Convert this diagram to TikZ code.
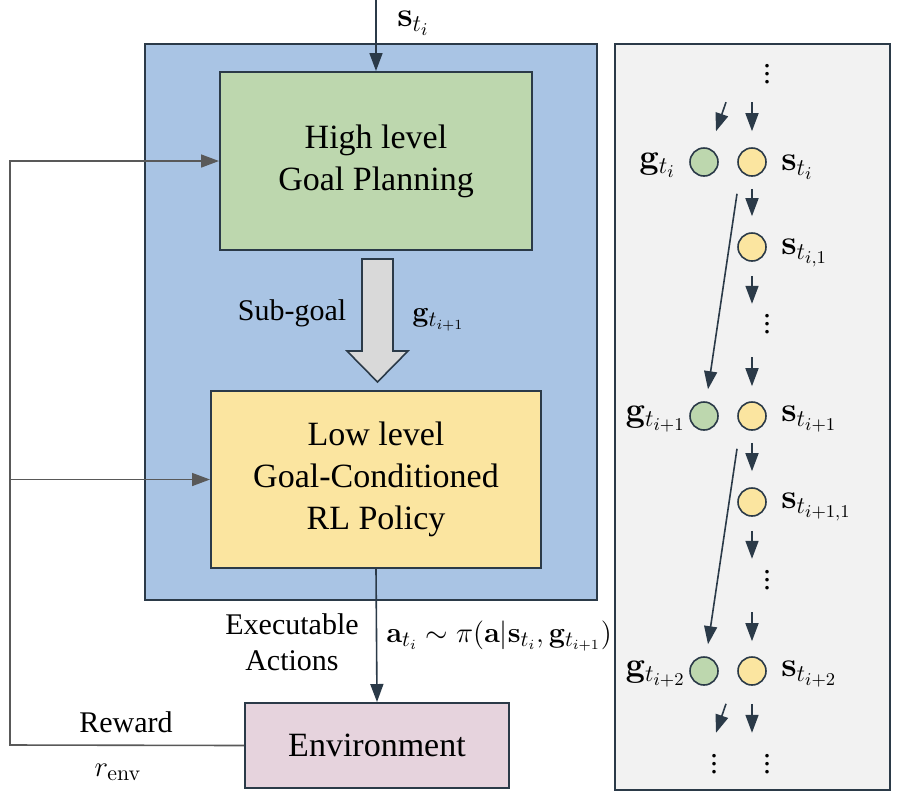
\documentclass[tikz,border=0pt]{standalone}
\usepackage{amsmath,amssymb}
\usepackage[no-math]{fontspec}
\setmainfont{Liberation Serif}
\usepackage{tikz}
\usetikzlibrary{arrows.meta}
\usepackage{xcolor}
\definecolor{PlanBlue}{HTML}{A9C4E4}
\definecolor{HighGreen}{HTML}{BDD7AE}
\definecolor{LowYellow}{HTML}{FBE5A0}
\definecolor{EnvPink}{HTML}{E6D3DD}
\definecolor{PanelGray}{HTML}{F2F2F2}
\definecolor{ShaftGray}{HTML}{D9D9D9}
\definecolor{EdgeDark}{HTML}{2B3A48}
\definecolor{FeedGray}{HTML}{595959}

\begin{document}
\begin{tikzpicture}[x=0.5pt,y=-0.5pt,>={Triangle[length=9pt,width=6.5pt]},
  box/.style={draw=EdgeDark,line width=1pt,align=center,inner sep=0pt,
    font=\fontsize{17}{21}\selectfont},
  lbl/.style={font=\fontsize{15}{18}\selectfont,inner sep=1pt},
  mlbl/.style={font=\fontsize{17.5}{20}\selectfont,inner sep=1pt},
  flow/.style={->,draw=EdgeDark,line width=0.8pt},
  stub/.style={->,draw=EdgeDark,line width=0.8pt},
  feed/.style={->,draw=FeedGray,line width=0.8pt},
  dot/.style={circle,draw=EdgeDark,line width=0.8pt,minimum size=14pt,inner sep=0pt}]
  \useasboundingbox (0,0) rectangle (900,794);
  % hierarchical agent
  \draw[EdgeDark,line width=1pt,fill=PlanBlue] (145,44) rectangle (597,600);
  \node[box,fill=HighGreen,minimum width=156pt,minimum height=89pt] (hlp) at (376,161)
    {High level\\Goal Planning};
  \node[box,fill=LowYellow,minimum width=165pt,minimum height=88.5pt] (llp) at (376,479.5)
    {Low level\\Goal-Conditioned\\RL Policy};
  \node[box,fill=EnvPink,minimum width=132pt,minimum height=42.5pt] (env) at (377,745.5)
    {Environment};
  \coordinate (sin) at (376,0);
  \draw[flow] (sin) -- (hlp.north);
  \node[mlbl,anchor=west,inner sep=0pt] (sinlbl) at (397,23) {$\mathbf{s}_{t_i}$};
  % sub-goal arrow
  \draw[EdgeDark,line width=0.8pt,fill=ShaftGray]
    (362,259) -- (393,259) -- (393,351) -- (408,351) -- (377.5,382)
    -- (347,351) -- (362,351) -- cycle;
  \node[lbl] (sublbl) at (292,313) {Sub-goal};
  \node[lbl,anchor=west] (subg) at (410,320) {$\mathbf{g}_{t_{i+1}}$};
  % actions
  \draw[flow] (llp.south) -- (env.north);
  \node[lbl,align=center] (actlbl) at (292,642) {Executable\\Actions};
  \node[lbl,anchor=west] (actmath) at (384,636)
    {$\mathbf{a}_{t_i}\sim\pi(\mathbf{a}|\mathbf{s}_{t_i},\mathbf{g}_{t_{i+1}})$};
  % reward feedback
  \coordinate (fbl) at (10,745);
  \draw[feed] (env.west) -- (fbl) |- (hlp.west);
  \draw[feed] (fbl |- llp.west) -- (llp.west);
  \node[lbl] (rwd) at (126,722) {Reward};
  \node[lbl] (renv) at (118,772) {$r_{\mathrm{env}}$};
  % unrolled timeline
  \draw[EdgeDark,line width=1pt,fill=PanelGray] (615,44) rectangle (890,790);
  \foreach \k/\y in {0/162,1/416,2/671} {
    \node[dot,fill=HighGreen] (g\k) at (704,\y) {};
    \node[dot,fill=LowYellow] (s\k) at (752,\y) {};
  }
  \foreach \k/\y in {0/247,1/502}
    \node[dot,fill=LowYellow] (s\k a) at (752,\y) {};
  \node[mlbl,anchor=east] at (678,165) {$\mathbf{g}_{t_i}$};
  \node[mlbl,anchor=east] at (688,419) {$\mathbf{g}_{t_{i+1}}$};
  \node[mlbl,anchor=east] at (688,674) {$\mathbf{g}_{t_{i+2}}$};
  \node[mlbl,anchor=west] at (779,167) {$\mathbf{s}_{t_i}$};
  \node[mlbl,anchor=west] at (779,253) {$\mathbf{s}_{t_{i,1}}$};
  \node[mlbl,anchor=west] at (779,419) {$\mathbf{s}_{t_{i+1}}$};
  \node[mlbl,anchor=west] at (779,507) {$\mathbf{s}_{t_{i+1,1}}$};
  \node[mlbl,anchor=west] at (779,674) {$\mathbf{s}_{t_{i+2}}$};
  \node[lbl] (vtop) at (767,68) {$\vdots$};
  \node[lbl] (vd0) at (767,318) {$\vdots$};
  \node[lbl] (vd1) at (767,574) {$\vdots$};
  \node[lbl] (vg) at (714,758) {$\vdots$};
  \node[lbl] (vs) at (767,758) {$\vdots$};
  \draw[stub] (s0.north) ++(0,-45) -- ++(0,29);
  \draw[stub] (g0.north) ++(22,-45) -- ++(-10,29);
  \draw[stub,shorten <=6pt,shorten >=8pt] (s0) -- (s0a);
  \draw[stub,shorten <=6pt,shorten >=8pt] (s1) -- (s1a);
  \draw[stub] (s0a.south) ++(0,14) -- ++(0,28);
  \draw[stub] (s1a.south) ++(0,14) -- ++(0,28);
  \draw[stub] (s1.north) ++(0,-44) -- ++(0,29);
  \draw[stub] (s2.north) ++(0,-44) -- ++(0,29);
  \draw[stub] (s0.south) ++(-15,17) -- ([shift={(4,-12)}]g1.north);
  \draw[stub] (s1.south) ++(-15,18) -- ([shift={(4,-12)}]g2.north);
  \draw[stub] (s2.south) ++(0,18) -- ++(0,29);
  \draw[stub] (g2.south) ++(22,18) -- ++(-10,29);
\end{tikzpicture}
\end{document}
